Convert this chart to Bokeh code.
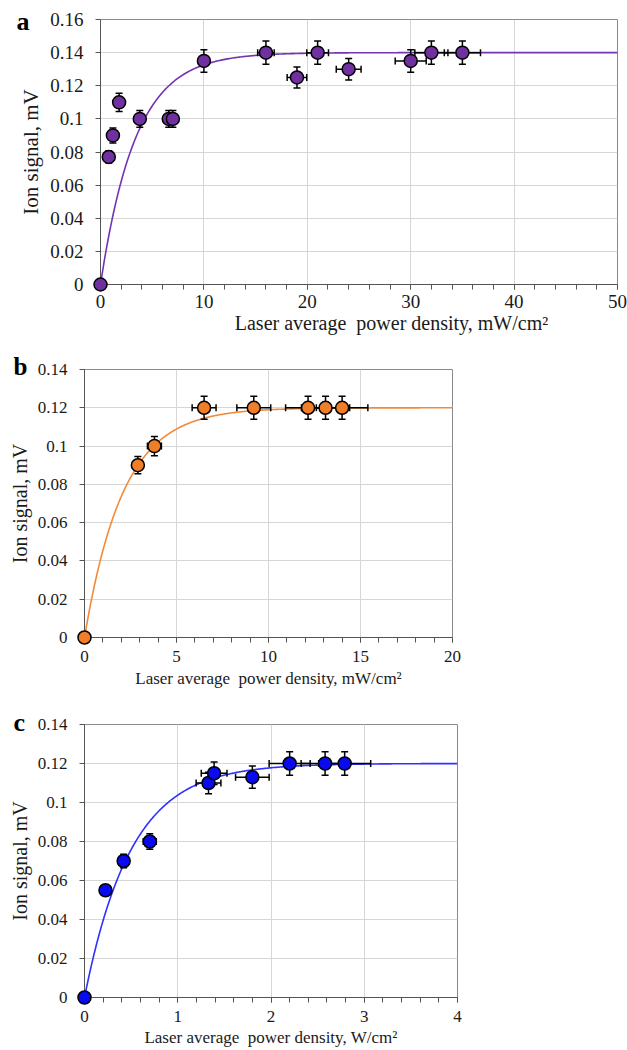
import numpy as np
from bokeh.plotting import figure
from bokeh.models import (ColumnDataSource, Whisker, TeeHead, Range1d,
                          FixedTicker, SingleIntervalTicker, InlineStyleSheet)
from bokeh.embed import file_html
from bokeh.resources import INLINE

# ---------------- data ----------------
# panel a (mW/cm^2)
a_x = [0, 0.8, 1.2, 1.8, 3.8, 6.6, 7.0, 10, 16, 19, 21, 24, 30, 32, 35]
a_y = [0, 0.077, 0.09, 0.11, 0.10, 0.10, 0.10, 0.135, 0.14, 0.125, 0.14, 0.13, 0.135, 0.14, 0.14]
a_xerr = [0, 0.04, 0.06, 0.09, 0.19, 0.33, 0.35, 0.5, 0.8, 0.95, 1.05, 1.2, 1.5, 1.6, 1.75]
a_yerr = [0, 0.0037, 0.0045, 0.0055, 0.005, 0.005, 0.005, 0.0068, 0.007, 0.0063, 0.007, 0.0065, 0.0068, 0.007, 0.007]
a_fit_amp, a_fit_tau = 0.14, 3.4

# panel b (mW/cm^2)
b_x = [0, 2.9, 3.8, 6.5, 9.2, 12.15, 13.1, 14.0]
b_y = [0, 0.09, 0.10, 0.12, 0.12, 0.12, 0.12, 0.12]
b_xerr = [0, 0.29, 0.38, 0.65, 0.92, 1.22, 1.31, 1.4]
b_yerr = [0, 0.0045, 0.005, 0.006, 0.006, 0.006, 0.006, 0.006]
b_fit_amp, b_fit_tau = 0.12, 2.1

# panel c (W/cm^2)
c_x = [0, 0.225, 0.42, 0.70, 1.33, 1.39, 1.80, 2.20, 2.58, 2.79]
c_y = [0, 0.055, 0.07, 0.08, 0.11, 0.115, 0.113, 0.12, 0.12, 0.12]
c_xerr = [0, 0.022, 0.042, 0.07, 0.133, 0.138, 0.18, 0.22, 0.257, 0.279]
c_yerr = [0, 0.0027, 0.0035, 0.004, 0.0055, 0.0058, 0.0057, 0.006, 0.006, 0.006]
c_fit_amp, c_fit_tau = 0.12, 0.5

a_yticks = [0, 0.02, 0.04, 0.06, 0.08, 0.1, 0.12, 0.14, 0.16]
a_ylabels = ["0", "0.02", "0.04", "0.06", "0.08", "0.1", "0.12", "0.14", "0.16"]
bc_yticks = [0, 0.02, 0.04, 0.06, 0.08, 0.1, 0.12, 0.14]
bc_ylabels = ["0", "0.02", "0.04", "0.06", "0.08", "0.1", "0.12", "0.14"]

y_title = "Ion signal, mV"
# panel a's axis title sits right of the frame centre in the original
a_xtitle = "\u00a0" * 13 + "Laser average\u00a0 power density, mW/cm\u00b2"
b_xtitle = "Laser average\u00a0 power density, mW/cm\u00b2"
c_xtitle = "Laser average\u00a0 power density, W/cm\u00b2"

FONT = "Liberation Serif"
SERIF_CSS = (":host { font-family: 'Liberation Serif', serif; } "
             "text { font-family: 'Liberation Serif', serif !important; }")


def panel(letter, xs, ys, xerr, yerr, amp, tau, xmax, xint, ymax, yticks, ylabels,
          xtitle, color, line_color, width, height, bl, br, bt, bb,
          tick_fs, ytitle_fs, xtitle_fs, ystand, xstand, ylab_stand, xlab_stand,
          letter_offset, letter_standoff, letter_fs):
    p = figure(width=width, height=height, output_backend="svg", toolbar_location=None,
               x_range=Range1d(0, xmax), y_range=Range1d(0, ymax),
               min_border_left=bl, min_border_right=br, min_border_top=bt, min_border_bottom=bb)
    p.stylesheets = [InlineStyleSheet(css=SERIF_CSS)]
    p.background_fill_color = "white"
    p.border_fill_color = "white"
    p.outline_line_color = "#8a8a8a"
    p.outline_line_width = 1

    xax = p.xaxis[0]
    yax = p.yaxis[0]
    xax.ticker = SingleIntervalTicker(interval=xint, num_minor_ticks=5)
    yax.ticker = FixedTicker(ticks=yticks, minor_ticks=[])
    yax.major_label_overrides = {t: l for t, l in zip(yticks, ylabels)}
    for ax in (xax, yax):
        ax.axis_line_color = "#555555"
        ax.axis_line_width = 1
        ax.major_tick_line_color = "#555555"
        ax.minor_tick_line_color = "#555555"
        ax.major_tick_in = 0
        ax.major_tick_out = 5
        ax.minor_tick_in = 0
        ax.major_label_text_font = FONT
        ax.major_label_text_font_style = "normal"
        ax.major_label_text_font_size = f"{tick_fs}px"
        ax.major_label_text_color = "#1a1a1a"
        ax.axis_label_text_font = FONT
        ax.axis_label_text_font_style = "normal"
        ax.axis_label_text_color = "#1a1a1a"
    xax.minor_tick_out = 5
    yax.minor_tick_out = 0
    yax.major_label_standoff = ystand
    xax.major_label_standoff = xstand
    yax.axis_label = y_title
    xax.axis_label = xtitle
    yax.axis_label_text_font_size = f"{ytitle_fs}px"
    xax.axis_label_text_font_size = f"{xtitle_fs}px"
    yax.axis_label_standoff = ylab_stand
    xax.axis_label_standoff = xlab_stand

    p.xgrid.grid_line_color = "#d6d6d6"
    p.ygrid.grid_line_color = "#d6d6d6"

    # fitted saturation curve A*(1-exp(-x/tau))
    fx = np.linspace(0, xmax, 400)
    fy = amp * (1 - np.exp(-fx / tau))
    p.line(fx, fy, line_color=line_color, line_width=1.6)

    xs_ = np.array(xs, dtype=float)
    ys_ = np.array(ys, dtype=float)
    xe = np.array(xerr, dtype=float)
    ye = np.array(yerr, dtype=float)
    src = ColumnDataSource(dict(x=xs_, y=ys_, xl=xs_ - xe, xh=xs_ + xe, yl=ys_ - ye, yh=ys_ + ye))

    def head():
        return TeeHead(size=7, line_color="black", line_width=1.5)

    wy = Whisker(source=src, base="x", lower="yl", upper="yh", dimension="height",
                 line_color="black", line_width=1.5, lower_head=head(), upper_head=head(),
                 level="glyph")
    wx = Whisker(source=src, base="y", lower="xl", upper="xh", dimension="width",
                 line_color="black", line_width=1.5, lower_head=head(), upper_head=head(),
                 level="glyph")
    p.add_layout(wy)
    p.add_layout(wx)

    p.scatter("x", "y", source=src, size=13, fill_color=color, line_color="black",
              line_width=1.5, level="overlay")

    # panel letter (title, shifted to the top-left corner)
    p.title.text = letter
    p.title.align = "left"
    p.title.offset = letter_offset
    p.title.vertical_align = "bottom"
    p.title.standoff = letter_standoff
    p.title.text_font = FONT
    p.title.text_font_style = "bold"
    p.title.text_font_size = f"{letter_fs}px"
    p.title.text_color = "black"
    return p


pa = panel("a", a_x, a_y, a_xerr, a_yerr, a_fit_amp, a_fit_tau, 50, 10, 0.16,
           a_yticks, a_ylabels, a_xtitle, "#7030A0", "#7434b4",
           width=627, height=340, bl=100, br=10, bt=19, bb=56,
           tick_fs=19, ytitle_fs=21, xtitle_fs=20, ystand=12, xstand=5,
           ylab_stand=4, xlab_stand=1,
           letter_offset=-84, letter_standoff=-33, letter_fs=26)

pb = panel("b", b_x, b_y, b_xerr, b_yerr, b_fit_amp, b_fit_tau, 20, 5, 0.14,
           bc_yticks, bc_ylabels, b_xtitle, "#F07D28", "#F28A3A",
           width=627, height=360, bl=84, br=175, bt=29, bb=63,
           tick_fs=17, ytitle_fs=20, xtitle_fs=17, ystand=12, xstand=8,
           ylab_stand=4, xlab_stand=4,
           letter_offset=-71, letter_standoff=-21, letter_fs=25)

pc = panel("c", c_x, c_y, c_xerr, c_yerr, c_fit_amp, c_fit_tau, 4, 1, 0.14,
           bc_yticks, bc_ylabels, c_xtitle, "#0A0AF0", "#3030FF",
           width=627, height=350, bl=84, br=170, bt=24, bb=53,
           tick_fs=17, ytitle_fs=20, xtitle_fs=17, ystand=12, xstand=8,
           ylab_stand=4, xlab_stand=3,
           letter_offset=-71, letter_standoff=-25, letter_fs=26)

open("out.html", "w").write(file_html([pa, pb, pc], INLINE))
